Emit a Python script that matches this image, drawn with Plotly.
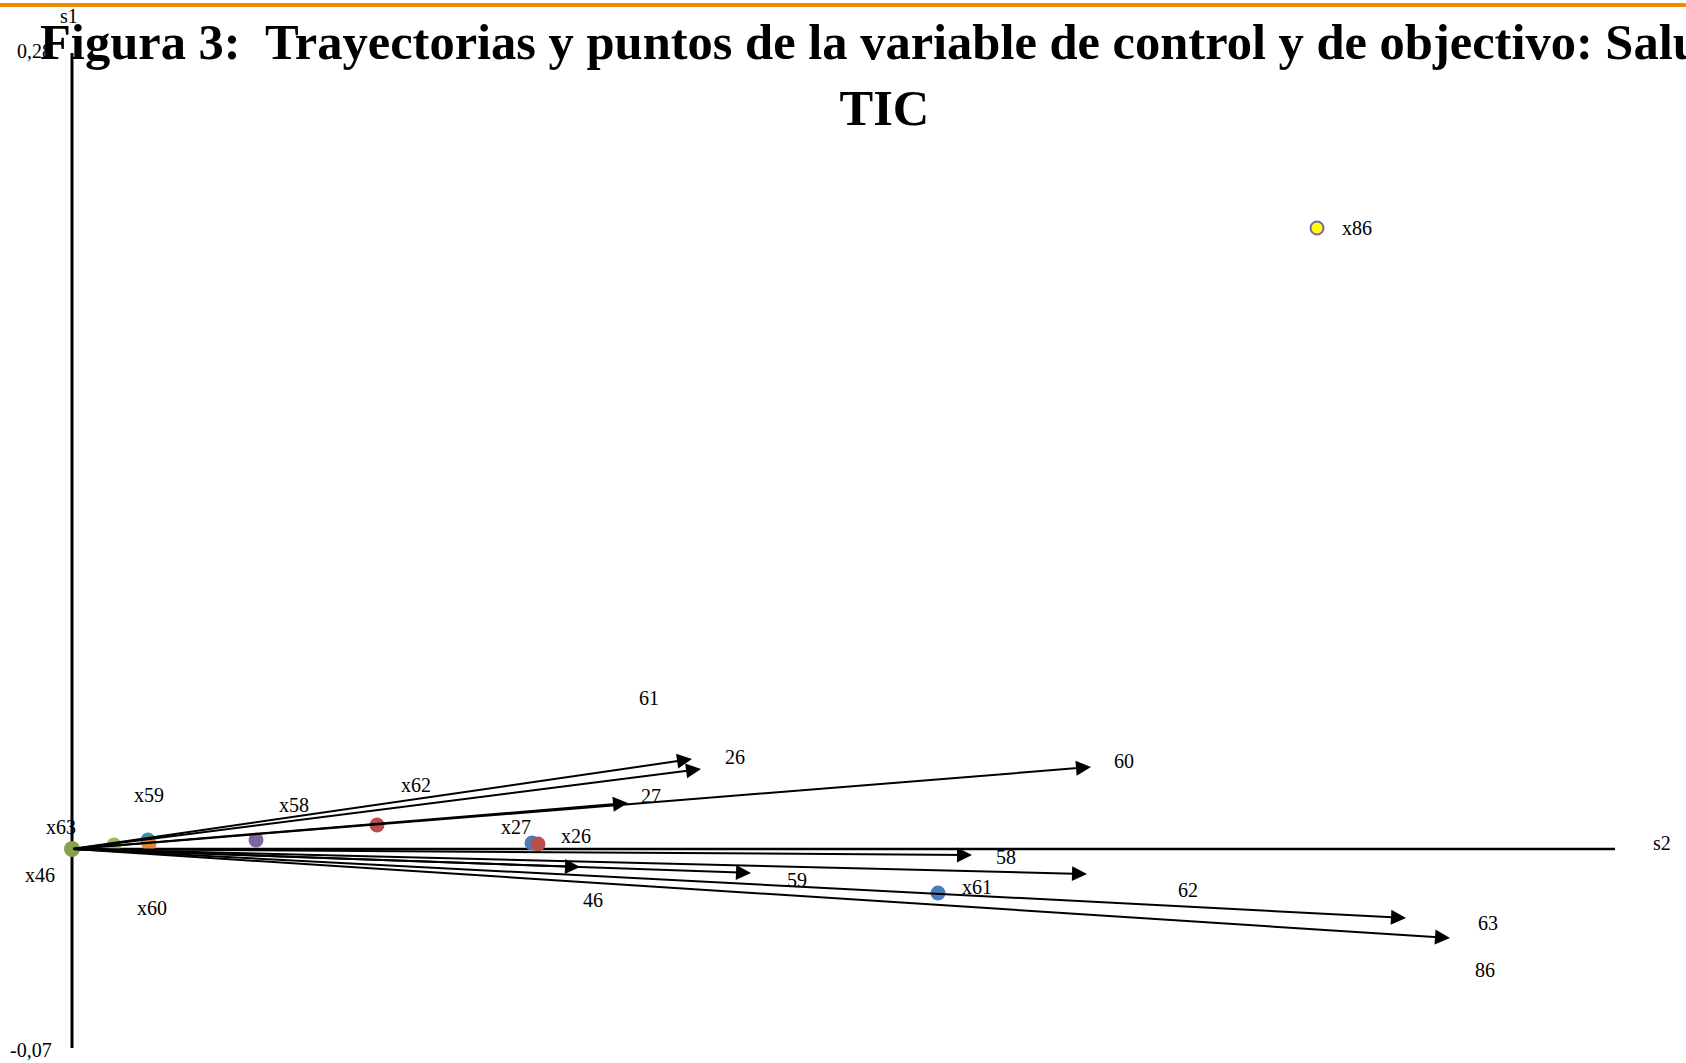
import plotly.graph_objects as go

# ---- data -----------------------------------------------------------------
# s1 (vertical) axis extent and its end labels
S1_MAX = 0.28
S1_MIN = -0.07
S1_LABELS = ["0,28", "-0,07"]
# s2 (horizontal) axis extent
S2_MAX = 0.5427
AXIS_NAMES = ["s1", "s2"]

# positions of the variables (points)
point_names = ["x63", "x46", "x59", "x60", "x58", "x62", "x27", "x26", "x61", "x86"]
point_s2 = [0.0, 0.01477, 0.02673, 0.02708, 0.06472, 0.10728, 0.16180, 0.16391, 0.30461, 0.43792]
point_s1 = [0.0, 0.00141, 0.00317, 0.00176, 0.00317, 0.00844, 0.00211, 0.00176, -0.01548, 0.21843]

# trajectories: every arrow leaves the origin and ends at these coordinates
traj_names = ["61", "26", "27", "60", "58", "59", "46", "62", "63", "86"]
traj_s2 = [0.21808, 0.22125, 0.19557, 0.35842, 0.31657, 0.23883, 0.17868, 0.35702, 0.46922, 0.48470]
traj_s1 = [0.03166, 0.02814, 0.01618, 0.02884, -0.00211, -0.00844, -0.00633, -0.00879, -0.02427, -0.03131]

TITLE = ("Figura 3:  Trayectorias y puntos de la variable de control y de objectivo: Salud"
         "<br>TIC")

# ---- styling --------------------------------------------------------------
W, H = 1686, 1063
PX = 2843.0            # pixels per unit on both axes
ORIGIN_PX = (72, 849)  # where (0, 0) sits on the page

point_colors = ["#86A04F", "#9BBB59", "#3C93AE", "#E3873A", "#7F64A0",
                "#BA4F4B", "#4A7EBB", "#BA4F4B", "#4A7EBB", "#FFFF00"]
point_lines = ["rgba(0,0,0,0)"] * 9 + ["#8064A2"]
point_sizes = [16, 15, 15, 15, 15, 15, 15, 15, 15, 13]
# label offsets (pixels, right / down) from each point
point_label_off = [(-11, -22), (-74, 30), (1, -45), (3, 64), (38, -35),
                   (39, -40), (-16, -16), (38, -8), (39, -6), (40, 0)]
# label offsets (pixels, right / down) from each arrow tip
traj_label_off = [(-43, -61), (34, -12), (23, -7), (33, -6), (34, 2),
                  (46, 7), (13, 33), (101, 16), (82, 5), (35, 32)]

FONT = "Liberation Serif, Times New Roman, serif"
LABEL_FONT = dict(family=FONT, size=20, color="black")

x_range = [-ORIGIN_PX[0] / PX, (W - ORIGIN_PX[0]) / PX]
y_range = [-(H - ORIGIN_PX[1]) / PX, ORIGIN_PX[1] / PX]

fig = go.Figure()

# points
for name, x, y, c, lc, s in zip(point_names, point_s2, point_s1,
                                point_colors, point_lines, point_sizes):
    fig.add_trace(go.Scatter(
        x=[x], y=[y], mode="markers", name=name, showlegend=False,
        marker=dict(size=s, color=c, line=dict(color=lc, width=2 if lc != point_lines[0] else 0)),
        hoverinfo="skip",
    ))

# trajectories as arrows from the origin
for x, y in zip(traj_s2, traj_s1):
    fig.add_annotation(
        x=x, y=y, ax=0, ay=0, xref="x", yref="y", axref="x", ayref="y",
        text="", showarrow=True, arrowhead=2, arrowsize=1.5, arrowwidth=2,
        arrowcolor="black", standoff=0, startstandoff=0,
    )

# point labels
for name, x, y, (dx, dy) in zip(point_names, point_s2, point_s1, point_label_off):
    fig.add_annotation(x=x, y=y, xref="x", yref="y", text=name, showarrow=False,
                       xshift=dx, yshift=-dy, font=LABEL_FONT)

# trajectory labels
for name, x, y, (dx, dy) in zip(traj_names, traj_s2, traj_s1, traj_label_off):
    fig.add_annotation(x=x, y=y, xref="x", yref="y", text=name, showarrow=False,
                       xshift=dx, yshift=-dy, font=LABEL_FONT)

# axis end labels
fig.add_annotation(x=0, y=S1_MAX, xref="x", yref="y", text=S1_LABELS[0], showarrow=False,
                   xanchor="right", xshift=-18, yshift=2, font=LABEL_FONT)
fig.add_annotation(x=0, y=S1_MIN, xref="x", yref="y", text=S1_LABELS[1], showarrow=False,
                   xanchor="right", xshift=-18, yshift=-2, font=LABEL_FONT)
fig.add_annotation(x=0, y=S1_MAX, xref="x", yref="y", text=AXIS_NAMES[0], showarrow=False,
                   xshift=-3, yshift=37, font=LABEL_FONT)
fig.add_annotation(x=S2_MAX, y=0, xref="x", yref="y", text=AXIS_NAMES[1], showarrow=False,
                   xshift=47, yshift=6, font=LABEL_FONT)

# title
fig.add_annotation(
    x=884 / W, y=1 - 75 / H, xref="paper", yref="paper", xanchor="center", yanchor="middle",
    text=TITLE, showarrow=False, align="center",
    font=dict(family=FONT, size=50.5, color="black", weight="bold"),
)

# axis lines
fig.add_shape(type="line", xref="x", yref="y", x0=0, x1=0, y0=S1_MIN, y1=S1_MAX,
              line=dict(color="black", width=3), layer="below")
fig.add_shape(type="line", xref="x", yref="y", x0=0, x1=S2_MAX, y0=0, y1=0,
              line=dict(color="black", width=2.5), layer="below")
# orange rule across the top
fig.add_shape(type="line", xref="paper", yref="paper", x0=0, x1=1,
              y0=1 - 5 / H, y1=1 - 5 / H, line=dict(color="#F08A00", width=4))

fig.update_layout(
    width=W, height=H,
    margin=dict(l=0, r=0, t=0, b=0),
    paper_bgcolor="white", plot_bgcolor="white",
    xaxis=dict(range=x_range, visible=False, fixedrange=True),
    yaxis=dict(range=y_range, visible=False, fixedrange=True),
    showlegend=False,
)

fig.write_html("out.html")
